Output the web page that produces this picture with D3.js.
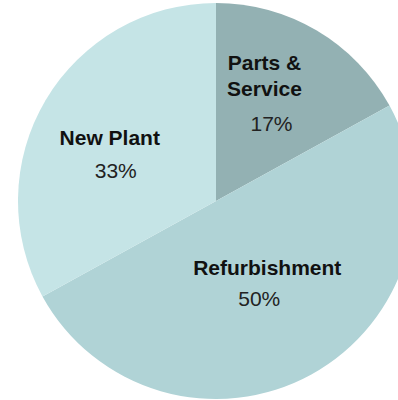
<!DOCTYPE html>
<html>
<head>
<meta charset="utf-8">
<script src="https://cdn.jsdelivr.net/npm/d3@7"></script>
<style>
  html, body { margin: 0; padding: 0; background: #fff; }
  svg { display: block; }
</style>
</head>
<body>
<svg id="chart" width="398" height="400"></svg>
<script>
// Data
const categories = ["Parts & Service", "Refurbishment", "New Plant"];
const nameLines = [["Parts &", "Service"], ["Refurbishment"], ["New Plant"]];
const values = [17, 50, 33];
const pctLabels = ["17%", "50%", "33%"];
const colors = ["#93b1b3", "#b0d3d6", "#c5e4e6"];

// Layout
const W = 398, H = 400;
const cx = 216, cy = 201, R = 198;
// label nudges relative to centroid (name first baseline, pct baseline)
const nameNudge = [[-12, -29], [-6, -30], [-4, 4]];
const pctNudge = [[-5, 32], [-14, 1], [2, 37]];

const svg = d3.select("#chart");
const g = svg.append("g").attr("transform", `translate(${cx},${cy})`);

const pie = d3.pie().sort(null).value(d => d);
const arcs = pie(values);
const arc = d3.arc().innerRadius(0).outerRadius(R);
const labelArc = d3.arc().innerRadius(R * 0.6).outerRadius(R * 0.6);

g.selectAll("path.slice")
  .data(arcs)
  .join("path")
  .attr("class", "slice")
  .attr("d", arc)
  .attr("fill", (d, i) => colors[i]);

const labels = g.selectAll("g.label")
  .data(arcs)
  .join("g")
  .attr("class", "label");

labels.each(function(d, i) {
  const [x, y] = labelArc.centroid(d);
  const sel = d3.select(this);
  nameLines[i].forEach((line, j) => {
    sel.append("text")
      .attr("x", x + nameNudge[i][0])
      .attr("y", y + nameNudge[i][1] + j * 26)
      .attr("text-anchor", "middle")
      .attr("font-family", "'Liberation Sans', Arial, sans-serif")
      .attr("font-weight", "bold")
      .attr("font-size", 21)
      .attr("fill", "#111")
      .text(line);
  });
  sel.append("text")
    .attr("x", x + pctNudge[i][0])
    .attr("y", y + pctNudge[i][1])
    .attr("text-anchor", "middle")
    .attr("font-family", "'Liberation Sans', Arial, sans-serif")
    .attr("font-size", 21)
    .attr("fill", "#222")
    .text(pctLabels[i]);
});
</script>
</body>
</html>
